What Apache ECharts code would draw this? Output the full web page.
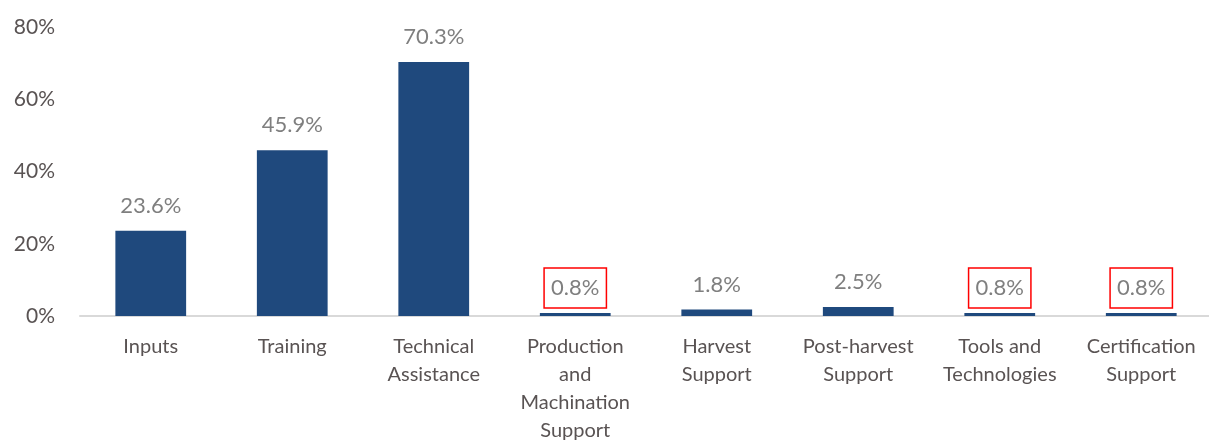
<!DOCTYPE html>
<html>
<head>
<meta charset="utf-8">
<script src="https://cdn.jsdelivr.net/npm/echarts@6/dist/echarts.min.js"></script>
<style>
  html, body { margin: 0; padding: 0; background: #fff; }
  #chart { width: 1209px; height: 441px; }
</style>
</head>
<body>
<div id="chart"></div>
<script>
// Share of respondents receiving each type of support
const categories = [
  'Inputs', 'Training', 'Technical\nAssistance', 'Production\nand\nMachination\nSupport',
  'Harvest\nSupport', 'Post-harvest\nSupport', 'Tools and\nTechnologies', 'Certification\nSupport'
];
const values = [23.6, 45.9, 70.3, 0.8, 1.8, 2.5, 0.8, 0.8];
// Categories whose value label is outlined
const highlighted = [false, false, false, true, false, false, true, true];
const yTicks = [0, 20, 40, 60, 80];

const FONT = 'Lato, "Open Sans", sans-serif';

const seriesData = values.map((v, i) => {
  const item = { value: v };
  if (highlighted[i]) {
    item.label = {
      borderColor: '#ff0000',
      borderWidth: 1.5,
      padding: [8, 7],
      distance: 5
    };
  }
  return item;
});

const chart = echarts.init(document.getElementById('chart'));
chart.setOption({
  animation: false,
  grid: { left: 80, right: -3, top: 27, bottom: 125, outerBoundsMode: 'none', containLabel: false },
  xAxis: {
    type: 'category',
    data: categories,
    axisLine: { lineStyle: { color: '#d9d9d9', width: 2 } },
    axisTick: { show: false },
    axisLabel: {
      interval: 0,
      color: '#595353',
      fontFamily: FONT,
      fontSize: 20,
      lineHeight: 28,
      margin: 17
    }
  },
  yAxis: {
    type: 'value',
    min: yTicks[0],
    max: yTicks[yTicks.length - 1],
    interval: 20,
    axisLine: { show: false },
    axisTick: { show: false },
    splitLine: { show: false },
    axisLabel: {
      color: '#595353',
      fontFamily: FONT,
      fontSize: 21,
      margin: 25,
      formatter: v => v + '%'
    }
  },
  series: [{
    type: 'bar',
    data: seriesData,
    barWidth: '50%',
    itemStyle: { color: '#1f497d' },
    label: {
      show: true,
      position: 'top',
      distance: 13,
      color: '#7f7f7f',
      fontFamily: FONT,
      fontSize: 22,
      lineHeight: 24,
      formatter: p => p.value.toFixed(1) + '%'
    }
  }]
});
</script>
</body>
</html>
